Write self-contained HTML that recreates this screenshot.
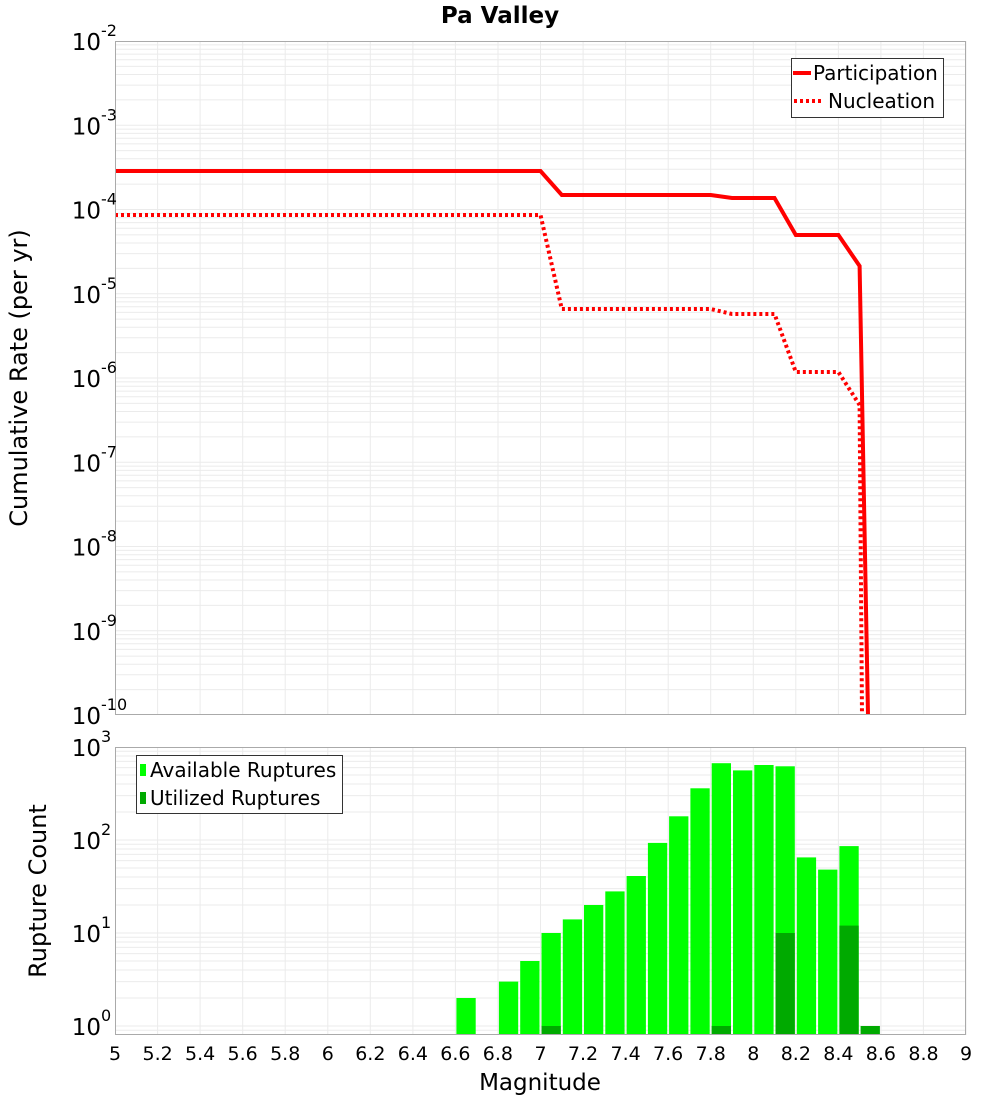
<!DOCTYPE html>
<html><head><meta charset="utf-8"><style>
html,body{margin:0;padding:0;background:#fff;}
svg{display:block;font-family:"DejaVu Sans","Liberation Sans",sans-serif;}
</style></head><body>
<svg id="s" width="1000" height="1100" xmlns="http://www.w3.org/2000/svg"></svg>
<script>
var s=document.getElementById('s'),h='';
function X(m){return 115+(m-5)*212.75;}
function Y1(v){return 41+(-2-Math.log10(v))*84.25;}
function Y2(v){return 1026-Math.log10(v)*93;}
var L=115,R=966,T1=41,B1=715,T2=747,B2=1035;
h+='<g stroke="#ebebeb" stroke-width="1">';
for(var m=5.2;m<9;m+=0.2){var x=X(m).toFixed(1);h+='<line x1="'+x+'" y1="'+T1+'" x2="'+x+'" y2="'+B1+'"/><line x1="'+x+'" y1="'+T2+'" x2="'+x+'" y2="'+B2+'"/>';}
for(var e=-10;e<-2;e++)for(var k=1;k<10;k++){var y=Y1(k*Math.pow(10,e));if(y>T1&&y<B1)h+='<line x1="'+L+'" y1="'+y.toFixed(1)+'" x2="'+R+'" y2="'+y.toFixed(1)+'"/>';}
for(var e=-1;e<3;e++)for(var k=1;k<10;k++){var y=Y2(k*Math.pow(10,e));if(y>T2&&y<B2)h+='<line x1="'+L+'" y1="'+y.toFixed(1)+'" x2="'+R+'" y2="'+y.toFixed(1)+'"/>';}
h+='</g>';
var av={6.6:2,6.8:3,6.9:5,7.0:10,7.1:14,7.2:20,7.3:28,7.4:41,7.5:93,7.6:180,7.7:360,7.8:670,7.9:560,8.0:640,8.1:620,8.2:65,8.3:48,8.4:86};
var ut={7.0:1,7.8:1,8.1:10,8.4:12,8.5:1};
for(var key in av){var m=parseFloat(key),x=X(m)+1,w=X(m+0.1)-X(m)-2,y=Y2(av[key]);h+='<rect x="'+x.toFixed(1)+'" y="'+y.toFixed(1)+'" width="'+w.toFixed(1)+'" height="'+(B2-y).toFixed(1)+'" fill="#00ff00"/>';}
for(var key in ut){var m=parseFloat(key),x=X(m)+1,w=X(m+0.1)-X(m)-2,y=Y2(ut[key]);h+='<rect x="'+x.toFixed(1)+'" y="'+y.toFixed(1)+'" width="'+w.toFixed(1)+'" height="'+(B2-y).toFixed(1)+'" fill="#00aa00"/>';}
function pts(a){return a.map(function(p){return p[0].toFixed(1)+','+p[1].toFixed(1);}).join(' ');}
var P=[[X(5),171],[X(7.0),171],[X(7.1),195],[X(7.8),195],[X(7.9),198],[X(8.1),198],[X(8.2),235],[X(8.4),235],[X(8.5),266],[868,715]];
var N=[[X(5),215],[X(7.0),215],[X(7.1),309],[X(7.8),309],[X(7.9),314],[X(8.1),314],[X(8.2),372],[X(8.4),372],[X(8.5),405],[862,715]];
h+='<svg x="'+L+'" y="'+T1+'" width="'+(R-L)+'" height="'+(B1-T1)+'" viewBox="'+L+' '+T1+' '+(R-L)+' '+(B1-T1)+'" overflow="hidden">';
h+='<polyline points="'+pts(N)+'" fill="none" stroke="#ff0000" stroke-width="4" stroke-dasharray="3,3"/>';
h+='<polyline points="'+pts(P)+'" fill="none" stroke="#ff0000" stroke-width="4"/>';
h+='</svg>';
h+='<rect x="'+L+'.5" y="'+T1+'.5" width="'+(R-L-1)+'" height="'+(B1-T1-1)+'" fill="none" stroke="#aaa"/>';
h+='<rect x="'+L+'.5" y="'+T2+'.5" width="'+(R-L-1)+'" height="'+(B2-T2-1)+'" fill="none" stroke="#aaa"/>';
function lab(y,exp){return '<text x="101" y="'+(y+9)+'" font-size="23" text-anchor="end">10</text><text x="101" y="'+(y-5)+'" font-size="16">'+exp+'</text>';}
for(var e=-2;e>=-10;e--)h+=lab(Y1(Math.pow(10,e)),e);
for(var e=0;e<=3;e++)h+=lab(Y2(Math.pow(10,e)),e);
var xl=['5','5.2','5.4','5.6','5.8','6','6.2','6.4','6.6','6.8','7','7.2','7.4','7.6','7.8','8','8.2','8.4','8.6','8.8','9'];
xl.forEach(function(t,i){h+='<text x="'+X(5+i*0.2).toFixed(1)+'" y="1060" font-size="19" text-anchor="middle">'+t+'</text>';});
h+='<text x="500" y="23" font-size="23" font-weight="bold" text-anchor="middle">Pa Valley</text>';
h+='<text x="540" y="1090" font-size="23" text-anchor="middle">Magnitude</text>';
h+='<text transform="translate(27,378) rotate(-90)" font-size="24" text-anchor="middle">Cumulative Rate (per yr)</text>';
h+='<text transform="translate(46,891) rotate(-90)" font-size="24" text-anchor="middle">Rupture Count</text>';
h+='<rect x="791.5" y="58.5" width="152" height="59" fill="#fff" stroke="#333"/>';
h+='<line x1="793" y1="73" x2="811" y2="73" stroke="#f00" stroke-width="4"/>';
h+='<text x="813" y="80" font-size="20">Participation</text>';
h+='<line x1="794" y1="101" x2="821" y2="101" stroke="#f00" stroke-width="4" stroke-dasharray="3,3"/>';
h+='<text x="828" y="108" font-size="20">Nucleation</text>';
h+='<rect x="136.5" y="755.5" width="206" height="58" fill="#fff" stroke="#333"/>';
h+='<rect x="140" y="764" width="6" height="12" fill="#00ff00"/>';
h+='<text x="150" y="777" font-size="20">Available Ruptures</text>';
h+='<rect x="140" y="792" width="6" height="12" fill="#00aa00"/>';
h+='<text x="150" y="805" font-size="20">Utilized Ruptures</text>';
s.innerHTML=h;
</script>
</body></html>
